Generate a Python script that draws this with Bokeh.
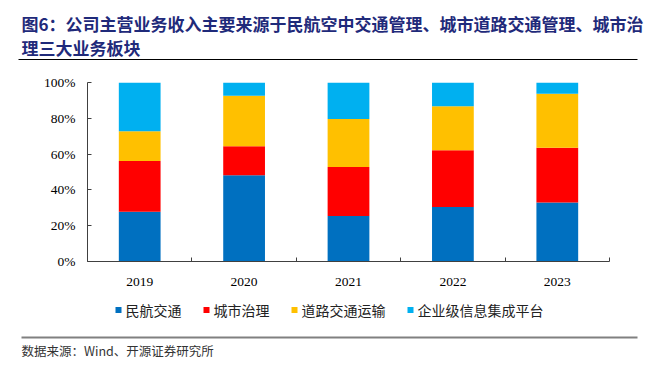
from bokeh.plotting import figure
from bokeh.models import FixedTicker, NumeralTickFormatter, Range1d, ColumnDataSource
from bokeh.core.properties import value
from bokeh.embed import file_html
from bokeh.resources import INLINE

years = ["2019", "2020", "2021", "2022", "2023"]
series = ["民航交通", "城市治理", "道路交通运输", "企业级信息集成平台"]
civil_aviation = [0.278, 0.482, 0.254, 0.304, 0.329]
city_governance = [0.284, 0.162, 0.274, 0.318, 0.306]
road_traffic = [0.166, 0.282, 0.268, 0.246, 0.302]
enterprise_info = [0.272, 0.074, 0.204, 0.132, 0.063]
colors = ["#0070C0", "#FF0000", "#FFC000", "#00B0F0"]
y_ticks = [0, 0.2, 0.4, 0.6, 0.8, 1.0]

title1 = "图6：公司主营业务收入主要来源于民航空中交通管理、城市道路交通管理、城市治"
title2 = "理三大业务板块"
source_text = "数据来源：Wind、开源证券研究所"

W, H = 649, 369
HEAD_H, MAIN_H = 70, 226
FOOT_H = H - HEAD_H - MAIN_H
FL, FR, FT, FB = 87, 609, 82, 261   # plot frame edges in page pixels
CJK = value("Noto Sans CJK SC")


def canvas_fig(top, h):
    """A figure whose frame is the whole canvas, in page-pixel coordinates."""
    f = figure(width=W, height=h, output_backend="svg", toolbar_location=None,
               x_range=Range1d(0, W), y_range=Range1d(top + h, top),
               x_axis_location=None, y_axis_location=None, min_border=0)
    f.grid.visible = False
    f.outline_line_color = None
    f.background_fill_color = "white"
    f.border_fill_color = "white"
    return f


# ---------- header: title ----------
head = canvas_fig(0, HEAD_H)
head.text(x=[21, 21], y=[23, 46.5], text=[title1, title2], text_font=CJK,
          text_font_style="bold", text_font_size="17px", text_color="#1F2A7A",
          text_baseline="middle", text_align="left")
head.segment(x0=[18], y0=[59], x1=[637], y1=[59], line_color="#000000", line_width=1)

# ---------- main chart ----------
xs = [i + 0.5 for i in range(len(years))]
src = ColumnDataSource(dict(x=xs, a=civil_aviation, b=city_governance,
                            c=road_traffic, d=enterprise_info))

p = figure(width=W, height=MAIN_H, output_backend="svg", toolbar_location=None,
           x_range=Range1d(0, len(years)), y_range=Range1d(0, 1))
p.min_border_left = FL
p.min_border_right = W - FR
p.min_border_top = FT - HEAD_H
p.min_border_bottom = HEAD_H + MAIN_H - FB
p.outline_line_color = None
p.grid.visible = False
p.background_fill_color = "white"
p.border_fill_color = "white"

rs = p.vbar_stack(["a", "b", "c", "d"], x="x", width=0.4, color=colors,
                  source=src, line_color=None)

xa = p.xaxis[0]
xa.ticker = FixedTicker(ticks=xs, minor_ticks=list(range(len(years) + 1)))
xa.major_label_overrides = {x: y for x, y in zip(xs, years)}
xa.major_tick_line_color = None
xa.minor_tick_in = 4
xa.minor_tick_out = 0
xa.minor_tick_line_color = "#404040"
xa.axis_line_color = "#404040"
xa.major_label_standoff = 10
xa.major_label_text_font = "Liberation Serif"
xa.major_label_text_font_size = "13.5px"
xa.major_label_text_color = "#000000"

ya = p.yaxis[0]
ya.ticker = FixedTicker(ticks=y_ticks)
ya.formatter = NumeralTickFormatter(format="0%")
ya.major_tick_in = 4
ya.major_tick_out = 0
ya.minor_tick_line_color = None
ya.axis_line_color = "#404040"
ya.major_tick_line_color = "#404040"
ya.major_label_standoff = 12
ya.major_label_text_font = "Liberation Serif"
ya.major_label_text_font_size = "13.5px"
ya.major_label_text_color = "#000000"

# ---------- footer: legend + source ----------
foot = canvas_fig(HEAD_H + MAIN_H, FOOT_H)
LEG_FONT = 14
leg_y = 309.5
sw_left, txt_x = [], []
cx = 115
for name in series:
    sw_left.append(cx)
    txt_x.append(cx + 10)
    cx += 10 + LEG_FONT * len(name) + 22
foot.quad(left=sw_left, right=[v + 6 for v in sw_left],
          top=[leg_y - 3] * len(series), bottom=[leg_y + 3] * len(series),
          fill_color=colors, line_color=None)
foot.text(x=txt_x, y=[leg_y] * len(series), text=series, text_font=CJK,
          text_font_size=f"{LEG_FONT}px", text_color="#222222",
          text_baseline="middle", text_align="left")
foot.segment(x0=[21], y0=[337], x1=[637], y1=[337], line_color="#808080", line_width=2)
foot.text(x=[21], y=[349.5], text=[source_text], text_font=CJK,
          text_font_size="12.5px", text_color="#333333",
          text_baseline="middle", text_align="left")

# separate roots: avoids frame alignment between the three canvases
open("out.html", "w").write(file_html([head, p, foot], INLINE))
